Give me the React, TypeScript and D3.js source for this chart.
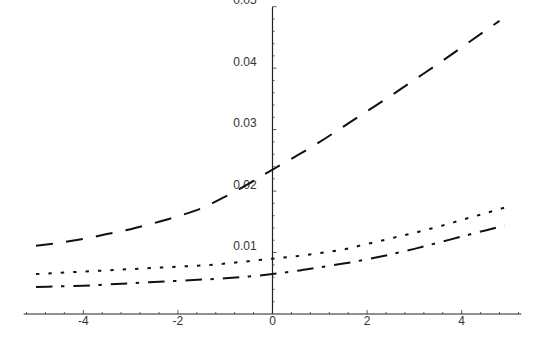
import React from "react";
import * as d3 from "d3";

const xValues = [-5, -4.5, -4, -3.5, -3, -2.5, -2, -1.5, -1, -0.5, 0, 0.5, 1, 1.5, 2, 2.5, 3, 3.5, 4, 4.5, 4.9];
const dashedX = [-5, -4.5, -4, -3.5, -3, -2.5, -2, -1.5, -1, -0.5, 0, 0.5, 1, 1.5, 2, 2.5, 3, 3.5, 4, 4.5, 4.8];
const dashedSeries = [0.0111, 0.0116, 0.0122, 0.013, 0.0138, 0.0148, 0.0159, 0.0172, 0.0191, 0.0212, 0.0235, 0.0257, 0.028, 0.0305, 0.033, 0.0355, 0.0381, 0.0407, 0.0434, 0.0461, 0.0477];
const dottedSeries = [0.0065, 0.0067, 0.0069, 0.0071, 0.0073, 0.0075, 0.0077, 0.0079, 0.0082, 0.0086, 0.009, 0.0094, 0.0099, 0.0105, 0.0114, 0.0123, 0.0132, 0.0142, 0.0153, 0.0164, 0.0173];
const dashDotSeries = [0.0044, 0.0045, 0.0046, 0.0048, 0.005, 0.0052, 0.0054, 0.0056, 0.0058, 0.0061, 0.0065, 0.007, 0.0076, 0.0082, 0.0089, 0.0097, 0.0106, 0.0116, 0.0126, 0.0136, 0.0144];

const xTickLabels = [-4, -2, 0, 2, 4];
const yTickLabels = [0.01, 0.02, 0.03, 0.04, 0.05];

const W = 545;
const H = 337;

export default function App() {
  const x = d3.scaleLinear().domain([-5.26, 5.26]).range([23.7, 521.3]);
  const y = d3.scaleLinear().domain([0, 0.05]).range([314, 6.7]);

  const line = d3
    .line<[number, number]>()
    .x((d) => x(d[0]))
    .y((d) => y(d[1]))
    .curve(d3.curveMonotoneX);

  const series = [
    { xs: dashedX, vals: dashedSeries, dash: "17,13.3" },
    { xs: xValues, vals: dottedSeries, dash: "3.4,9" },
    { xs: xValues, vals: dashDotSeries, dash: "16.5,8.5,3.4,9" },
  ];

  const xMinor = d3.range(-13, 14).map((i) => i * 0.4);
  const yMinor = d3.range(1, 26).map((i) => i * 0.002);

  const x0 = x(0);
  const y0 = y(0);
  const font = "'Liberation Sans', Arial, Helvetica, sans-serif";

  return (
    <svg
      width={W}
      height={H}
      style={{ position: "absolute", left: 0, top: 0, background: "#fff" }}
    >
      <line x1={x(-5.26)} x2={x(5.26)} y1={y0} y2={y0} stroke="#222" strokeWidth={1.2} />
      <line x1={x0} x2={x0} y1={y(0)} y2={y(0.05)} stroke="#222" strokeWidth={1.2} />
      {xMinor.map((t, i) => {
        const major = Math.abs(Math.round(t * 10) % 20) === 0;
        return (
          <line
            key={"xt" + i}
            x1={x(t)}
            x2={x(t)}
            y1={y0}
            y2={y0 - (major ? 4 : 2)}
            stroke="#333"
            strokeWidth={0.8}
          />
        );
      })}
      {yMinor.map((t, i) => {
        const major = (i + 1) % 5 === 0;
        return (
          <line
            key={"yt" + i}
            x1={x0}
            x2={x0 + (major ? 4 : 2)}
            y1={y(t)}
            y2={y(t)}
            stroke="#333"
            strokeWidth={0.8}
          />
        );
      })}
      {xTickLabels.map((t) => (
        <text
          key={"xl" + t}
          x={x(t)}
          y={y0 + 11}
          textAnchor="middle"
          fontFamily={font}
          fontSize={12}
          fill="#333"
        >
          {t < 0 ? "-" + Math.abs(t) : String(t)}
        </text>
      ))}
      {yTickLabels.map((t) => (
        <text
          key={"yl" + t}
          x={x0 - 15.8}
          y={y(t) - 2.5}
          textAnchor="end"
          fontFamily={font}
          fontSize={12}
          fill="#333"
        >
          {t.toFixed(2)}
        </text>
      ))}
      {series.map((s, i) => (
        <path
          key={"s" + i}
          d={line(s.xs.map((xv, j) => [xv, s.vals[j]] as [number, number])) || ""}
          fill="none"
          stroke="#111"
          strokeWidth={2}
          strokeDasharray={s.dash}
        />
      ))}
    </svg>
  );
}
